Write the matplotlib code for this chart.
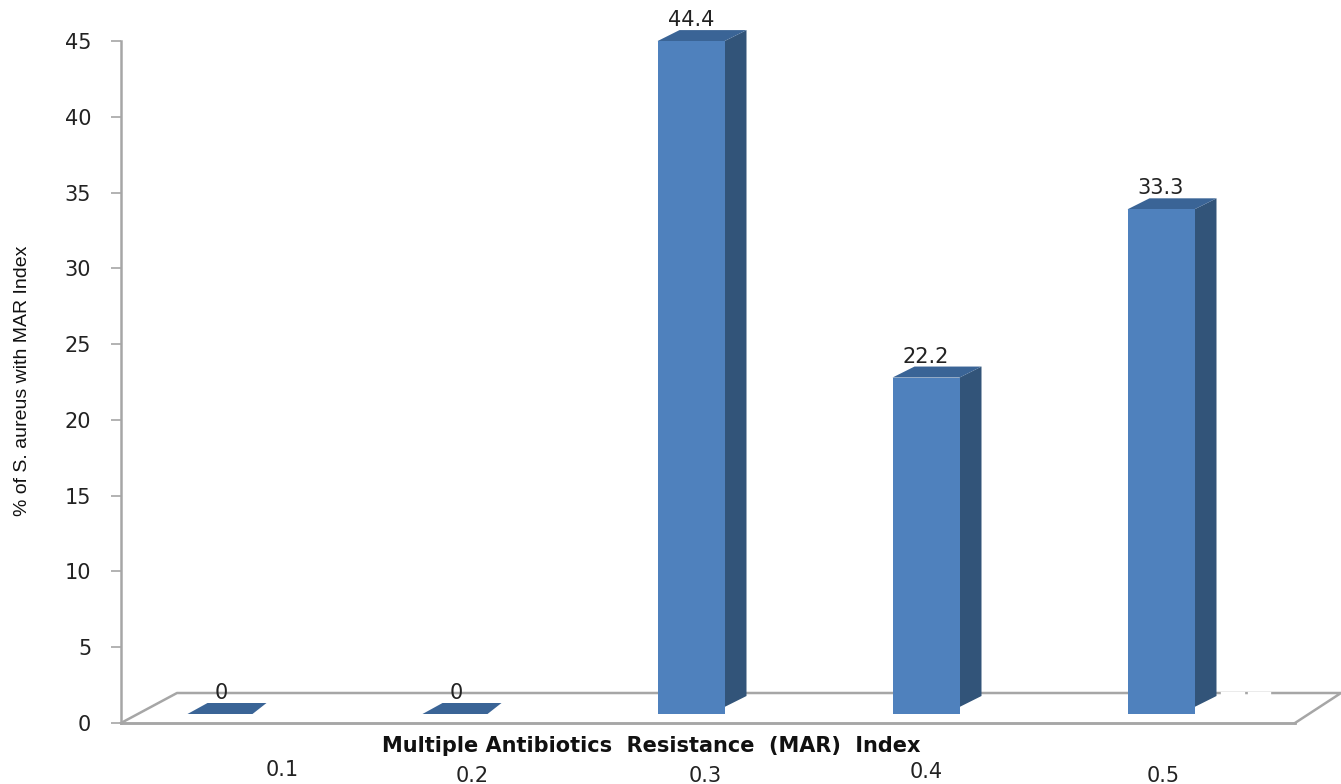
import matplotlib
matplotlib.use('Agg')
import matplotlib.pyplot as plt
from matplotlib.patches import Polygon

categories = ['0.1', '0.2', '0.3', '0.4', '0.5']
values = [0, 0, 44.4, 22.2, 33.3]
yticks = [0, 5, 10, 15, 20, 25, 30, 35, 40, 45]

W, H = 1341, 784
fig = plt.figure(figsize=(W / 100, H / 100), dpi=100)
ax = fig.add_axes([121 / W, 1 - 723 / H, (1295 - 121) / W, (723 - 41) / H])

# pixel sizes turned into data units
xpx = 1 / 235
ypx = 45 / 682
ax.set_xlim(-100 * xpx, 1074 * xpx)
ax.set_ylim(0, 45)

FRONT = '#4F81BD'
SIDE = '#325479'
TOP = '#3A6496'
GREY = '#A6A6A6'
TEXT = '#222222'


def poly(points, color, z):
    p = Polygon(points, closed=True, facecolor=color, edgecolor='none', zorder=z, clip_on=False)
    ax.add_patch(p)


# floor
x0, x1 = ax.get_xlim()
back_x0 = x0 + 56 * xpx
back_x1 = x1 + 46 * xpx
back_y = 30 * ypx
floor = dict(color=GREY, lw=1.8, zorder=1, clip_on=False)
ax.plot([x0, back_x0, back_x1, x1], [0, back_y, back_y, 0], **floor)
ax.plot([x0, x1], [0, 0], **floor)
# gap in the back line next to the last bar
ax.plot([4 + 61 * xpx, 4 + 82 * xpx], [back_y, back_y], color='white', lw=2.4, zorder=1.5, clip_on=False)
ax.plot([4 + 88 * xpx, 4 + 108 * xpx], [back_y, back_y], color='white', lw=2.4, zorder=1.5, clip_on=False)

# bars
base = 9 * ypx
hw = 33.5 * xpx
dx = 22 * xpx
dy = 11 * ypx
lift = 7 * ypx
for i, v in enumerate(values):
    top = base + v
    if v > 0:
        poly([(i + hw, base + lift), (i + hw + dx, base + lift + dy), (i + hw + dx, top + dy), (i + hw, top)], SIDE, 3)
        poly([(i - hw, top), (i + hw, top), (i + hw + dx, top + dy), (i - hw + dx, top + dy)], TOP, 3)
        poly([(i - hw, base), (i + hw, base), (i + hw, top), (i - hw, top)], FRONT, 4)
    else:
        poly([(i - hw, top), (i + hw - 2 * xpx, top), (i + hw + 12 * xpx, top + dy), (i - hw + 20 * xpx, top + dy)], TOP, 3)
    ax.annotate(f'{v:g}', (i, top), xytext=(0, 15), textcoords='offset pixels', ha='center', va='baseline',
                fontsize=15, color=TEXT, zorder=5, annotation_clip=False)

# axes
for s in ['top', 'right']:
    ax.spines[s].set_visible(False)
ax.spines['left'].set_color(GREY)
ax.spines['left'].set_linewidth(1.8)
ax.spines['bottom'].set_color(GREY)
ax.spines['bottom'].set_linewidth(1.8)
ax.set_yticks(yticks)
ax.tick_params(axis='y', length=7.5, width=1.2, color=GREY, pad=14, labelsize=15, labelcolor=TEXT)
ax.set_xticks([])
ax.patch.set_alpha(0)

# category labels sit at uneven heights in the original
label_pos = [(282, 770), (472, 776), (705, 776), (926, 772), (1163, 776)]
for name, (px, py) in zip(categories, label_pos):
    fig.text(px / W, 1 - py / H, name, ha='center', va='center', fontsize=15, color=TEXT)

fig.text(651 / W, 1 - 746 / H, 'Multiple Antibiotics  Resistance  (MAR)  Index', ha='center', va='center',
         fontsize=15, color='#111111', fontweight='bold')
fig.text(23 / W, 1 - 381 / H, '% of S. aureus with MAR Index', rotation=90, ha='center', va='center',
         fontsize=14, color='#111111', family=['Liberation Sans Narrow', 'Liberation Sans'])

fig.savefig('out.png', dpi=100, facecolor='white')
